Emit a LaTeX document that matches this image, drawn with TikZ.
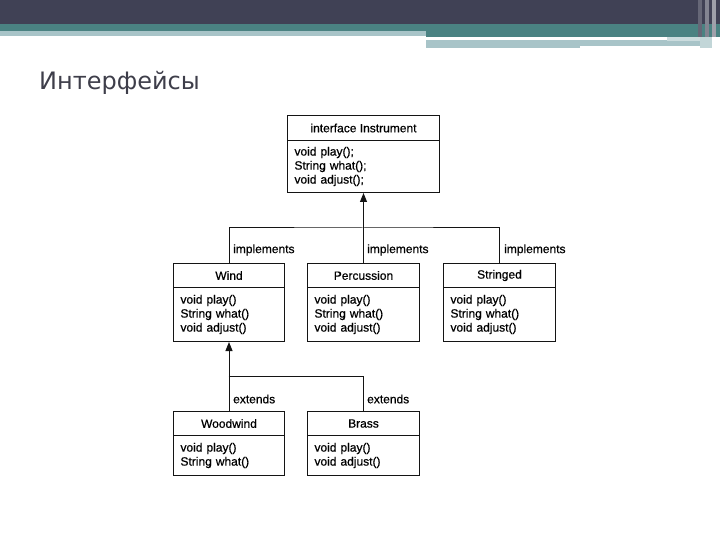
\documentclass[tikz,border=0pt]{standalone}
\usepackage{fontspec}
\setmainfont{Liberation Sans}
\newfontfamily\diagfont{Liberation Sans}[FakeBold=0.6]
\newfontfamily\titlefont{DejaVu Sans}
\usetikzlibrary{arrows.meta}
\definecolor{hdark}{RGB}{64,65,85}
\definecolor{hteal}{RGB}{74,130,130}
\definecolor{hlight}{RGB}{168,196,200}
\definecolor{titlegray}{RGB}{62,62,74}
\definecolor{linecol}{RGB}{20,20,20}
\tikzset{
  hdr/.style={draw=linecol, line width=1pt, anchor=north west, inner sep=0pt,
    font=\diagfont\fontsize{12}{14}\selectfont},
  body/.style={draw=linecol, line width=1pt, anchor=north west, inner xsep=7pt, inner ysep=0pt,
    align=left, font=\diagfont\fontsize{12}{14}\selectfont},
  lbl/.style={anchor=west, inner sep=0pt, font=\diagfont\fontsize{12}{14}\selectfont},
  conn/.style={draw=linecol, line width=1pt},
  arr/.style={conn, -{Triangle[length=9pt,width=7pt]}}
}
\begin{document}
\begin{tikzpicture}[x=1pt,y=-1pt]
\useasboundingbox (0,0) rectangle (720,540);
% header bars
\fill[hdark] (0,0) rectangle (720,24);
\fill[hteal] (0,24) rectangle (720,31);
\fill[hteal] (426,31) rectangle (720,37);
\fill[hlight] (0,31) rectangle (426,36);
\fill[hlight] (426,40) rectangle (700,46);
\fill[hlight] (426,46) rectangle (580,48);
\fill[hlight!60] (667,37) rectangle (700,41);
\fill[hdark!80] (698,0) rectangle (702,37);
\fill[hdark!65] (705,0) rectangle (709,37);
\fill[hdark!50] (712,0) rectangle (716,37);
\fill[hlight!70] (700,37) rectangle (712,48);
% title
\node[anchor=base west, inner sep=0pt, text=titlegray, font=\titlefont\fontsize{24}{28}\selectfont] (title) at (39,90) {Интерфейсы};
% Instrument
\node[hdr, minimum width=152pt, minimum height=25pt] (inst-h) at (287,115) {interface Instrument};
\node[body, text width=138pt, minimum height=52pt] (inst-b) at (287,140) {void play();\\String what();\\void adjust();};
% Wind
\node[hdr, minimum width=111pt, minimum height=24pt] (wind-h) at (173,263) {Wind};
\node[body, text width=97pt, minimum height=54pt] (wind-b) at (173,287) {void play()\\String what()\\void adjust()};
% Percussion
\node[hdr, minimum width=112pt, minimum height=24pt] (perc-h) at (307,263) {Percussion};
\node[body, text width=98pt, minimum height=54pt] (perc-b) at (307,287) {void play()\\String what()\\void adjust()};
% Stringed
\node[hdr, minimum width=112pt, minimum height=24pt] (str-h) at (443,263) {Stringed};
\node[body, text width=98pt, minimum height=54pt] (str-b) at (443,287) {void play()\\String what()\\void adjust()};
% Woodwind
\node[hdr, minimum width=111pt, minimum height=24pt] (wood-h) at (173,411) {Woodwind};
\node[body, text width=97pt, minimum height=40pt] (wood-b) at (173,435) {void play()\\String what()};
% Brass
\node[hdr, minimum width=112pt, minimum height=24pt] (brass-h) at (307,411) {Brass};
\node[body, text width=98pt, minimum height=40pt] (brass-b) at (307,435) {void play()\\void adjust()};
% connectors
\coordinate (j1) at (363,228);
\coordinate (j2) at (228.5,376);
\draw[arr] (perc-h.north) -- (inst-b.south);
\draw[conn] (wind-h.north) |- (j1) -| (str-h.north);
\draw[arr] (wood-h.north) -- (wind-b.south);
\draw[conn] (j2) -| (brass-h.north);
% labels
\node[lbl] (l1) at (233,250) {implements};
\node[lbl] (l2) at (367,250) {implements};
\node[lbl] (l3) at (504,250) {implements};
\node[lbl] (l4) at (233,399) {extends};
\node[lbl] (l5) at (367,399) {extends};
\end{tikzpicture}
\end{document}
